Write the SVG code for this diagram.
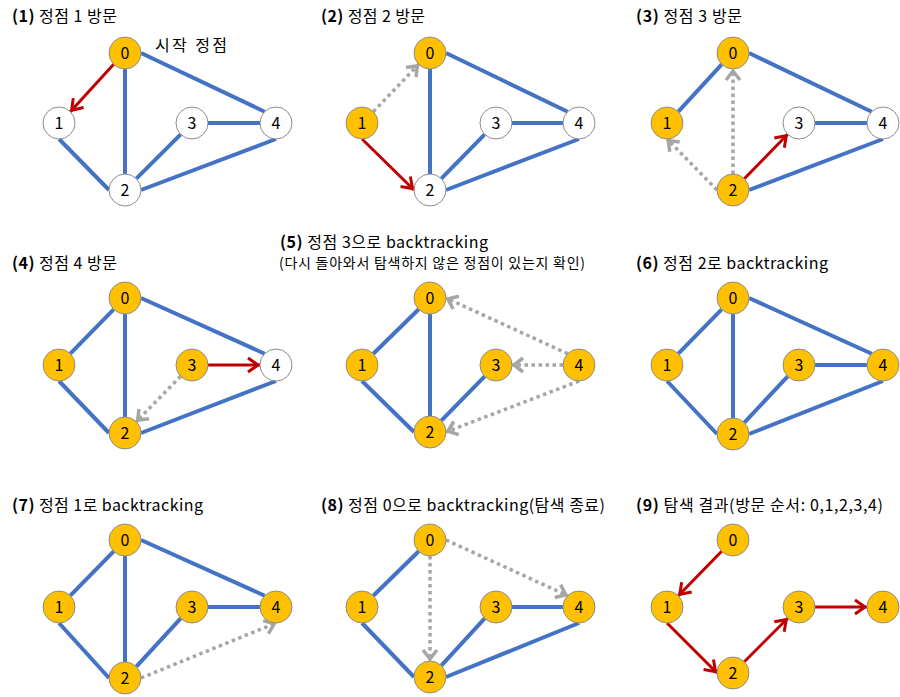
<svg xmlns="http://www.w3.org/2000/svg" width="900" height="697" viewBox="0 0 900 697">
<defs>
<style>
.e{stroke:#4472C4;stroke-width:4;fill:none}
.r{stroke:#C00000;stroke-width:3;fill:none;marker-end:url(#mr)}
.g{stroke:#A6A6A6;stroke-width:3.5;fill:none;stroke-dasharray:3.5 3.5;marker-end:url(#mg)}
.v circle{fill:#FFC000;stroke:#8C8C8C;stroke-width:1}
.u circle{fill:#FFFFFF;stroke:#8C8C8C;stroke-width:1}
.v text,.u text{font-family:"Noto Sans CJK KR","Noto Sans",sans-serif;font-size:16px;text-anchor:middle;fill:#000}
.t{font-family:"Noto Sans CJK KR","Noto Sans",sans-serif;font-size:16px;fill:#000}
.t .b{font-weight:bold}
.s{font-family:"Noto Sans CJK KR","Noto Sans",sans-serif;font-size:14px;fill:#000}
</style>
<marker id="mr" markerUnits="userSpaceOnUse" viewBox="-14 -10 16 20" markerWidth="16" markerHeight="20" refX="0" refY="0" orient="auto">
<path d="M-12,-7 L-2,0 L-12,7" fill="none" stroke="#C00000" stroke-width="3"/>
</marker>
<marker id="mg" markerUnits="userSpaceOnUse" viewBox="-14 -10 16 20" markerWidth="16" markerHeight="20" refX="0" refY="0" orient="auto">
<path d="M-11,-7 L-2,0 L-11,7" fill="none" stroke="#A6A6A6" stroke-width="3.5"/>
</marker>
</defs>
<rect width="900" height="697" fill="#FFFFFF"/>

<g id="titles">
<text class="t" x="12" y="22" textLength="105" lengthAdjust="spacing"><tspan class="b">(1)</tspan> 정점 1 방문</text>
<text class="t" x="155" y="51" textLength="72" lengthAdjust="spacing">시작 정점</text>
<text class="t" x="321" y="22" textLength="104" lengthAdjust="spacing"><tspan class="b">(2)</tspan> 정점 2 방문</text>
<text class="t" x="636" y="22" textLength="106" lengthAdjust="spacing"><tspan class="b">(3)</tspan> 정점 3 방문</text>
<text class="t" x="12" y="269" textLength="105" lengthAdjust="spacing"><tspan class="b">(4)</tspan> 정점 4 방문</text>
<text class="t" x="280" y="248" textLength="208" lengthAdjust="spacing"><tspan class="b">(5)</tspan> 정점 3으로 backtracking</text>
<text class="s" x="279" y="268" textLength="306" lengthAdjust="spacing">(다시 돌아와서 탐색하지 않은 정점이 있는지 확인)</text>
<text class="t" x="636" y="269" textLength="192" lengthAdjust="spacing"><tspan class="b">(6)</tspan> 정점 2로 backtracking</text>
<text class="t" x="12" y="511" textLength="191" lengthAdjust="spacing"><tspan class="b">(7)</tspan> 정점 1로 backtracking</text>
<text class="t" x="321" y="511" textLength="284" lengthAdjust="spacing"><tspan class="b">(8)</tspan> 정점 0으로 backtracking(탐색 종료)</text>
<text class="t" x="636" y="511" textLength="247" lengthAdjust="spacing"><tspan class="b">(9)</tspan> 탐색 결과(방문 순서: 0,1,2,3,4)</text>
</g>

<g id="connectors">
<g id="c1">
<line class="e" x1="125" y1="69" x2="125" y2="174"/>
<line class="e" x1="141" y1="53" x2="264.7" y2="111.7"/>
<line class="e" x1="59" y1="139" x2="109" y2="190"/>
<line class="e" x1="136.3" y1="178.7" x2="180.7" y2="134.3"/>
<line class="e" x1="208" y1="123" x2="260" y2="123"/>
<line class="e" x1="141" y1="190" x2="276" y2="139"/>
<line class="r" x1="113.7" y1="64.3" x2="70.3" y2="111.7"/>
</g>
<g id="c2">
<line class="e" x1="430" y1="69" x2="430" y2="174"/>
<line class="e" x1="446" y1="53" x2="567.7" y2="111.7"/>
<line class="e" x1="441.3" y1="178.7" x2="484.7" y2="134.3"/>
<line class="e" x1="512" y1="123" x2="563" y2="123"/>
<line class="e" x1="446" y1="190" x2="579" y2="139"/>
<line class="g" x1="373.3" y1="111.7" x2="418.7" y2="64.3"/>
<line class="r" x1="362" y1="139" x2="414" y2="190"/>
</g>
<g id="c3">
<line class="e" x1="721.7" y1="64.3" x2="678.3" y2="111.7"/>
<line class="e" x1="749" y1="53" x2="871.7" y2="111.7"/>
<line class="e" x1="815" y1="123" x2="867" y2="123"/>
<line class="e" x1="749" y1="190" x2="883" y2="139"/>
<line class="g" x1="717" y1="190" x2="667" y2="139"/>
<line class="g" x1="733" y1="174" x2="733" y2="69"/>
<line class="r" x1="744.3" y1="178.7" x2="787.7" y2="134.3"/>
</g>
<g id="c4">
<line class="e" x1="113.7" y1="309.3" x2="70.3" y2="353.7"/>
<line class="e" x1="125" y1="314" x2="125" y2="417"/>
<line class="e" x1="141" y1="298" x2="264.7" y2="353.7"/>
<line class="e" x1="59" y1="381" x2="109" y2="433"/>
<line class="e" x1="141" y1="433" x2="276" y2="381"/>
<line class="r" x1="208" y1="365" x2="260" y2="365"/>
<line class="g" x1="180.7" y1="376.3" x2="136.3" y2="421.7"/>
</g>
<g id="c5">
<line class="e" x1="418.7" y1="309.3" x2="373.3" y2="353.7"/>
<line class="e" x1="430" y1="314" x2="430" y2="416"/>
<line class="e" x1="362" y1="381" x2="414" y2="432"/>
<line class="e" x1="441.3" y1="420.7" x2="484.7" y2="376.3"/>
<line class="g" x1="567.7" y1="353.7" x2="446" y2="298"/>
<line class="g" x1="563" y1="365" x2="512" y2="365"/>
<line class="g" x1="579" y1="381" x2="446" y2="432"/>
</g>
<g id="c6">
<line class="e" x1="721.7" y1="309.3" x2="678.3" y2="353.7"/>
<line class="e" x1="733" y1="314" x2="733" y2="418"/>
<line class="e" x1="749" y1="298" x2="871.7" y2="353.7"/>
<line class="e" x1="667" y1="381" x2="717" y2="434"/>
<line class="e" x1="744.3" y1="422.7" x2="787.7" y2="376.3"/>
<line class="e" x1="815" y1="365" x2="867" y2="365"/>
<line class="e" x1="749" y1="434" x2="883" y2="381"/>
</g>
<g id="c7">
<line class="e" x1="113.7" y1="551.3" x2="70.3" y2="595.7"/>
<line class="e" x1="125" y1="556" x2="125" y2="662"/>
<line class="e" x1="141" y1="540" x2="264.7" y2="595.7"/>
<line class="e" x1="59" y1="623" x2="109" y2="678"/>
<line class="e" x1="136.3" y1="666.7" x2="180.7" y2="618.3"/>
<line class="e" x1="208" y1="607" x2="260" y2="607"/>
<line class="g" x1="141" y1="678" x2="276" y2="623"/>
</g>
<g id="c8">
<line class="e" x1="418.7" y1="551.3" x2="373.3" y2="595.7"/>
<line class="e" x1="362" y1="623" x2="414" y2="677"/>
<line class="e" x1="441.3" y1="665.7" x2="484.7" y2="618.3"/>
<line class="e" x1="512" y1="607" x2="563" y2="607"/>
<line class="e" x1="446" y1="677" x2="579" y2="623"/>
<line class="g" x1="430" y1="556" x2="430" y2="661"/>
<line class="g" x1="446" y1="540" x2="567.7" y2="595.7"/>
</g>
<g id="c9">
<line class="r" x1="721.7" y1="551.3" x2="678.3" y2="595.7"/>
<line class="r" x1="667" y1="623" x2="717" y2="673"/>
<line class="r" x1="744.3" y1="661.7" x2="787.7" y2="618.3"/>
<line class="r" x1="815" y1="607" x2="867" y2="607"/>
</g>
</g>

<g id="p1">
<g id="p1n0" class="v"><circle cx="125" cy="53" r="16"/><text x="125" y="59">0</text></g>
<g id="p1n1" class="u"><circle cx="59" cy="123" r="16"/><text x="59" y="129">1</text></g>
<g id="p1n2" class="u"><circle cx="125" cy="190" r="16"/><text x="125" y="196">2</text></g>
<g id="p1n3" class="u"><circle cx="192" cy="123" r="16"/><text x="192" y="129">3</text></g>
<g id="p1n4" class="u"><circle cx="276" cy="123" r="16"/><text x="276" y="129">4</text></g>
</g>
<g id="p2">
<g id="p2n0" class="v"><circle cx="430" cy="53" r="16"/><text x="430" y="59">0</text></g>
<g id="p2n1" class="v"><circle cx="362" cy="123" r="16"/><text x="362" y="129">1</text></g>
<g id="p2n2" class="u"><circle cx="430" cy="190" r="16"/><text x="430" y="196">2</text></g>
<g id="p2n3" class="u"><circle cx="496" cy="123" r="16"/><text x="496" y="129">3</text></g>
<g id="p2n4" class="u"><circle cx="579" cy="123" r="16"/><text x="579" y="129">4</text></g>
</g>
<g id="p3">
<g id="p3n0" class="v"><circle cx="733" cy="53" r="16"/><text x="733" y="59">0</text></g>
<g id="p3n1" class="v"><circle cx="667" cy="123" r="16"/><text x="667" y="129">1</text></g>
<g id="p3n2" class="v"><circle cx="733" cy="190" r="16"/><text x="733" y="196">2</text></g>
<g id="p3n3" class="u"><circle cx="799" cy="123" r="16"/><text x="799" y="129">3</text></g>
<g id="p3n4" class="u"><circle cx="883" cy="123" r="16"/><text x="883" y="129">4</text></g>
</g>
<g id="p4">
<g id="p4n0" class="v"><circle cx="125" cy="298" r="16"/><text x="125" y="304">0</text></g>
<g id="p4n1" class="v"><circle cx="59" cy="365" r="16"/><text x="59" y="371">1</text></g>
<g id="p4n2" class="v"><circle cx="125" cy="433" r="16"/><text x="125" y="439">2</text></g>
<g id="p4n3" class="v"><circle cx="192" cy="365" r="16"/><text x="192" y="371">3</text></g>
<g id="p4n4" class="u"><circle cx="276" cy="365" r="16"/><text x="276" y="371">4</text></g>
</g>
<g id="p5">
<g id="p5n0" class="v"><circle cx="430" cy="298" r="16"/><text x="430" y="304">0</text></g>
<g id="p5n1" class="v"><circle cx="362" cy="365" r="16"/><text x="362" y="371">1</text></g>
<g id="p5n2" class="v"><circle cx="430" cy="432" r="16"/><text x="430" y="438">2</text></g>
<g id="p5n3" class="v"><circle cx="496" cy="365" r="16"/><text x="496" y="371">3</text></g>
<g id="p5n4" class="v"><circle cx="579" cy="365" r="16"/><text x="579" y="371">4</text></g>
</g>
<g id="p6">
<g id="p6n0" class="v"><circle cx="733" cy="298" r="16"/><text x="733" y="304">0</text></g>
<g id="p6n1" class="v"><circle cx="667" cy="365" r="16"/><text x="667" y="371">1</text></g>
<g id="p6n2" class="v"><circle cx="733" cy="434" r="16"/><text x="733" y="440">2</text></g>
<g id="p6n3" class="v"><circle cx="799" cy="365" r="16"/><text x="799" y="371">3</text></g>
<g id="p6n4" class="v"><circle cx="883" cy="365" r="16"/><text x="883" y="371">4</text></g>
</g>
<g id="p7">
<g id="p7n0" class="v"><circle cx="125" cy="540" r="16"/><text x="125" y="546">0</text></g>
<g id="p7n1" class="v"><circle cx="59" cy="607" r="16"/><text x="59" y="613">1</text></g>
<g id="p7n2" class="v"><circle cx="125" cy="678" r="16"/><text x="125" y="684">2</text></g>
<g id="p7n3" class="v"><circle cx="192" cy="607" r="16"/><text x="192" y="613">3</text></g>
<g id="p7n4" class="v"><circle cx="276" cy="607" r="16"/><text x="276" y="613">4</text></g>
</g>
<g id="p8">
<g id="p8n0" class="v"><circle cx="430" cy="540" r="16"/><text x="430" y="546">0</text></g>
<g id="p8n1" class="v"><circle cx="362" cy="607" r="16"/><text x="362" y="613">1</text></g>
<g id="p8n2" class="v"><circle cx="430" cy="677" r="16"/><text x="430" y="683">2</text></g>
<g id="p8n3" class="v"><circle cx="496" cy="607" r="16"/><text x="496" y="613">3</text></g>
<g id="p8n4" class="v"><circle cx="579" cy="607" r="16"/><text x="579" y="613">4</text></g>
</g>
<g id="p9">
<g id="p9n0" class="v"><circle cx="733" cy="540" r="16"/><text x="733" y="546">0</text></g>
<g id="p9n1" class="v"><circle cx="667" cy="607" r="16"/><text x="667" y="613">1</text></g>
<g id="p9n2" class="v"><circle cx="733" cy="673" r="16"/><text x="733" y="679">2</text></g>
<g id="p9n3" class="v"><circle cx="799" cy="607" r="16"/><text x="799" y="613">3</text></g>
<g id="p9n4" class="v"><circle cx="883" cy="607" r="16"/><text x="883" y="613">4</text></g>
</g>
</svg>
